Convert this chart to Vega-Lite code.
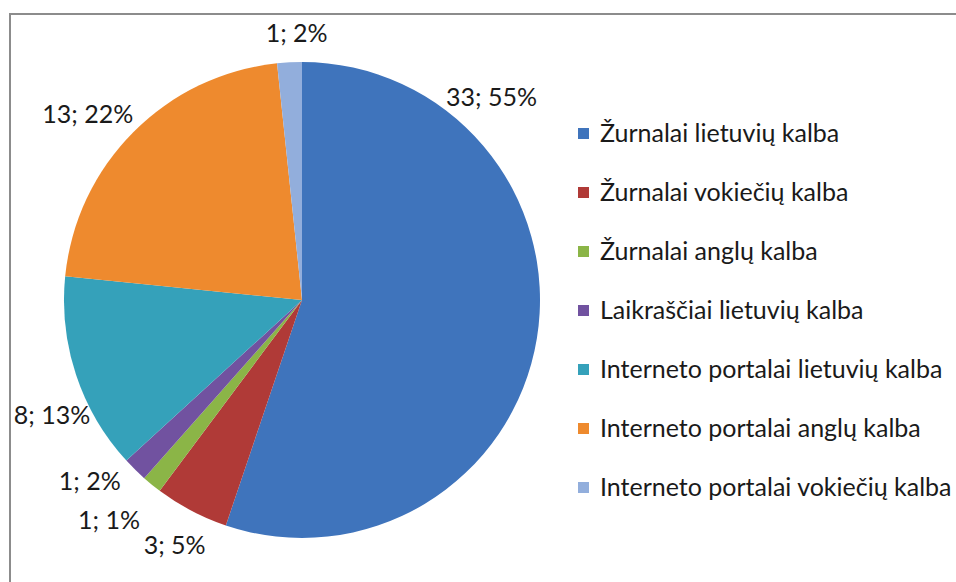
{
  "$schema": "https://vega.github.io/schema/vega-lite/v6.json",
  "padding": {"left": 9, "top": 11, "right": 0, "bottom": 0},
  "background": "white",
  "spacing": 0,
  "bounds": "flush",
  "config": {"font": "Lato", "concat": {"spacing": 0}},
  "hconcat": [
    {
      "width": 584,
      "height": 572,
      "view": {"stroke": "#8c8c8c", "strokeWidth": 2, "strokeDash": [584, 1156, 572]},
      "data": {
        "values": [
          {"order": 1, "category": "Žurnalai lietuvių kalba", "value": 33, "label": "33; 55%"},
          {"order": 2, "category": "Žurnalai vokiečių kalba", "value": 3, "label": "3; 5%"},
          {"order": 3, "category": "Žurnalai anglų kalba", "value": 0.8, "label": "1; 1%"},
          {"order": 4, "category": "Laikraščiai lietuvių kalba", "value": 1, "label": "1; 2%"},
          {"order": 5, "category": "Interneto portalai lietuvių kalba", "value": 8, "label": "8; 13%"},
          {"order": 6, "category": "Interneto portalai anglų kalba", "value": 13, "label": "13; 22%"},
          {"order": 7, "category": "Interneto portalai vokiečių kalba", "value": 1, "label": "1; 2%"}
        ]
      },
      "encoding": {
        "theta": {"field": "value", "type": "quantitative", "stack": true},
        "order": {"field": "order", "type": "quantitative"},
        "color": {
          "field": "category",
          "type": "nominal",
          "sort": ["Žurnalai lietuvių kalba", "Žurnalai vokiečių kalba", "Žurnalai anglų kalba", "Laikraščiai lietuvių kalba", "Interneto portalai lietuvių kalba", "Interneto portalai anglų kalba", "Interneto portalai vokiečių kalba"],
          "scale": {
            "domain": ["Žurnalai lietuvių kalba", "Žurnalai vokiečių kalba", "Žurnalai anglų kalba", "Laikraščiai lietuvių kalba", "Interneto portalai lietuvių kalba", "Interneto portalai anglų kalba", "Interneto portalai vokiečių kalba"],
            "range": ["#3f74bc", "#b03a37", "#8bb547", "#7152a0", "#35a1ba", "#ee8a2e", "#92aedc"]
          },
          "legend": {
            "title": null,
            "orient": "none",
            "legendX": 561,
            "legendY": 107,
            "symbolType": "square",
            "symbolSize": 121,
            "symbolStrokeWidth": 0,
            "labelFontSize": 25,
            "labelColor": "#1a1a1a",
            "labelFont": "Lato",
            "labelOffset": 4,
            "rowPadding": 33,
            "labelLimit": 420
          }
        }
      },
      "layer": [
        {"mark": {"type": "arc", "outerRadius": 238}},
        {
          "mark": {"type": "text", "radius": 277, "thetaOffset": -0.98, "font": "Lato"},
          "encoding": {
            "text": {"condition": {"test": "datum.order === 1", "field": "label"}, "value": ""},
            "size": {"condition": {"test": "datum.order === 1", "value": 25}, "value": 1},
            "color": {"value": "#1a1a1a"}
          }
        },
        {
          "mark": {"type": "text", "radius": 274, "font": "Lato", "dy": 3},
          "encoding": {
            "text": {"condition": {"test": "datum.order === 2", "field": "label"}, "value": ""},
            "size": {"condition": {"test": "datum.order === 2", "value": 25}, "value": 1},
            "color": {"value": "#1a1a1a"}
          }
        },
        {
          "mark": {"type": "text", "radius": 274, "font": "Lato", "dx": 10, "dy": 30},
          "encoding": {
            "text": {"condition": {"test": "datum.order === 5", "field": "label"}, "value": ""},
            "size": {"condition": {"test": "datum.order === 5", "value": 25}, "value": 1},
            "color": {"value": "#1a1a1a"}
          }
        },
        {
          "mark": {"type": "text", "radius": 274, "font": "Lato", "dx": -20, "dy": 8},
          "encoding": {
            "text": {"condition": {"test": "datum.order === 3 || datum.order === 6", "field": "label"}, "value": ""},
            "size": {"condition": {"test": "datum.order === 3 || datum.order === 6", "value": 25}, "value": 1},
            "color": {"value": "#1a1a1a"}
          }
        },
        {
          "mark": {"type": "text", "radius": 274, "font": "Lato", "dx": -20, "dy": -13},
          "encoding": {
            "text": {"condition": {"test": "datum.order === 4", "field": "label"}, "value": ""},
            "size": {"condition": {"test": "datum.order === 4", "value": 25}, "value": 1},
            "color": {"value": "#1a1a1a"}
          }
        },
        {
          "mark": {"type": "text", "radius": 274, "font": "Lato", "dx": 9, "dy": 8},
          "encoding": {
            "text": {"condition": {"test": "datum.order === 7", "field": "label"}, "value": ""},
            "size": {"condition": {"test": "datum.order === 7", "value": 25}, "value": 1},
            "color": {"value": "#1a1a1a"}
          }
        }
      ]
    },
    {
      "width": 364,
      "height": 572,
      "view": {"stroke": "#8c8c8c", "strokeWidth": 2, "strokeDash": [364, 2000]},
      "data": {"values": [{"t": ""}]},
      "mark": {"type": "text", "fontSize": 1},
      "encoding": {"text": {"field": "t", "type": "nominal"}}
    }
  ]
}
